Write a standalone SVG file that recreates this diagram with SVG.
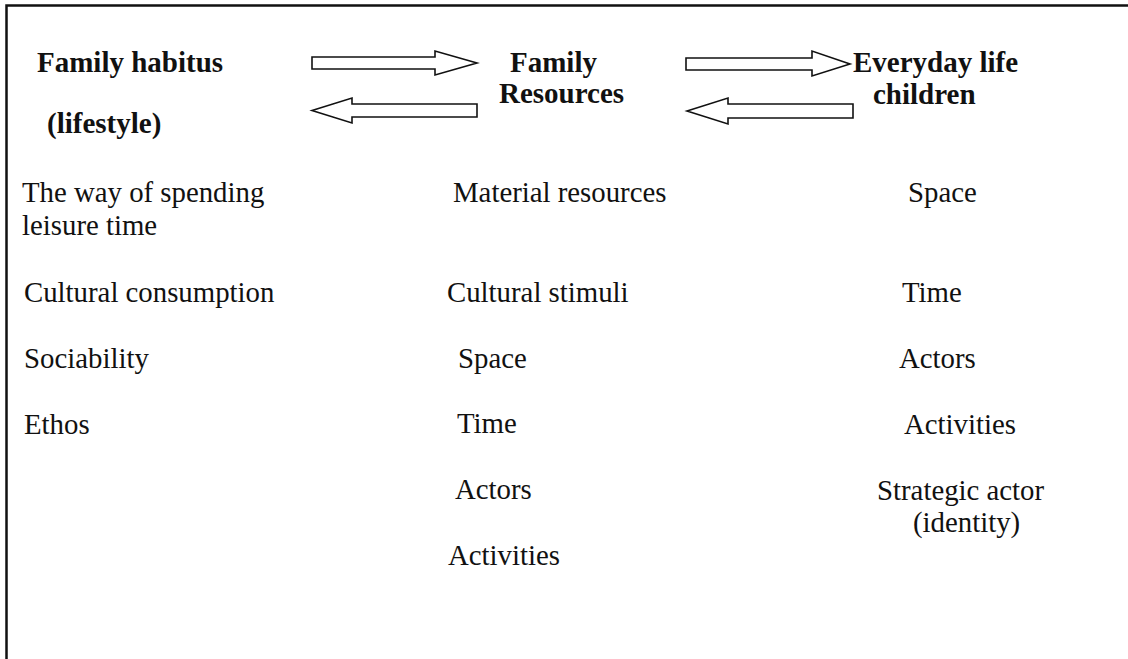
<svg xmlns="http://www.w3.org/2000/svg" width="1128" height="659" viewBox="0 0 1128 659">
<style>
text{font-family:"Liberation Serif","Times New Roman",serif;font-size:28.8px;fill:#111}
.b{font-weight:bold;font-size:29px}
.arr{fill:#fff;stroke:#111;stroke-width:1.6;stroke-linejoin:miter}
.frame{fill:none;stroke:#111;stroke-width:2.5}
</style>
<rect width="1128" height="659" fill="#fff"/>
<path class="frame" d="M6.5,659 V5.5 H1128"/>
<g id="connectors">
<polygon class="arr" points="312,57 435,57 435,51 477,63 435,75 435,69 312,69"/>
<polygon class="arr" points="312,110.5 352,98 352,104 477,104 477,117 352,117 352,123"/>
<polygon class="arr" points="686,58 812,58 812,51 850,64 812,76 812,70 686,70"/>
<polygon class="arr" points="687,111 728,98 728,104 853,104 853,118 728,118 728,124"/>
</g>
<g id="family-habitus">
<text class="b" x="37" y="72">Family habitus</text>
<text class="b" x="47" y="133">(lifestyle)</text>
</g>
<g id="family-resources">
<text class="b" x="510" y="72">Family</text>
<text class="b" x="499" y="103">Resources</text>
</g>
<g id="everyday-life">
<text class="b" x="853" y="72">Everyday life</text>
<text class="b" x="873" y="104">children</text>
</g>
<g id="habitus-items">
<text x="22" y="202">The way of spending</text>
<text x="22" y="235">leisure time</text>
<text x="24" y="302">Cultural consumption</text>
<text x="24" y="368">Sociability</text>
<text x="24" y="434">Ethos</text>
</g>
<g id="resources-items">
<text x="453" y="202">Material resources</text>
<text x="447" y="302">Cultural stimuli</text>
<text x="458" y="368">Space</text>
<text x="457" y="433">Time</text>
<text x="455" y="499">Actors</text>
<text x="448" y="565">Activities</text>
</g>
<g id="everyday-items">
<text x="908" y="202">Space</text>
<text x="902" y="302">Time</text>
<text x="899" y="368">Actors</text>
<text x="904" y="434">Activities</text>
<text x="877" y="500">Strategic actor</text>
<text x="913" y="532">(identity)</text>
</g>
</svg>
